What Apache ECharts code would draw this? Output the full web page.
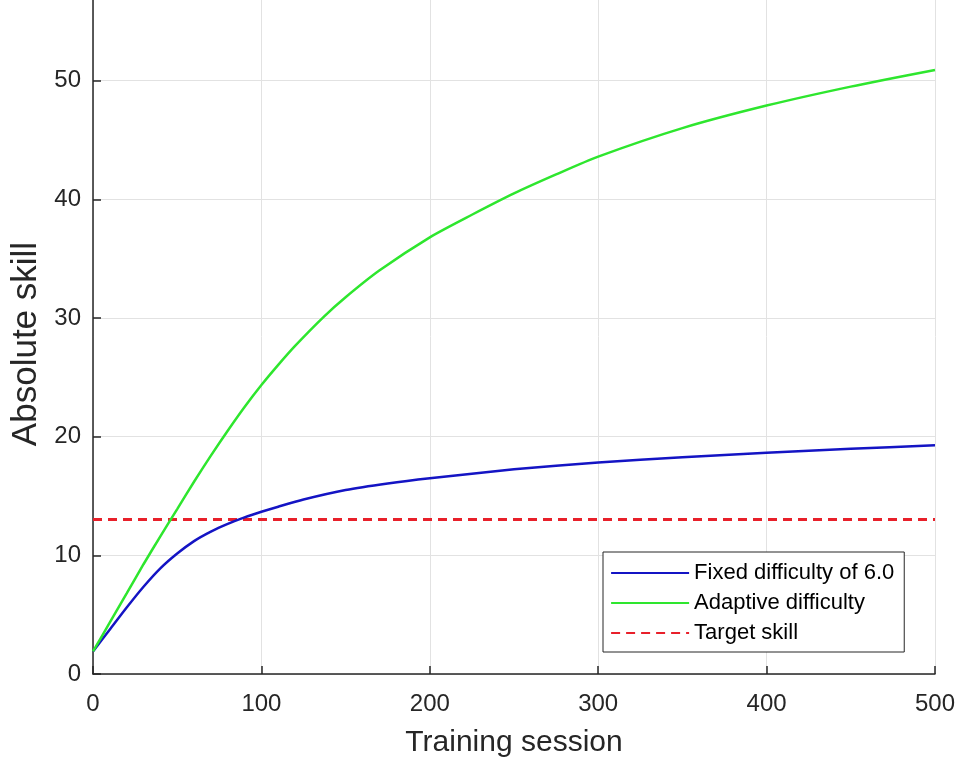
<!DOCTYPE html>
<html>
<head>
<meta charset="utf-8">
<script src="https://cdn.jsdelivr.net/npm/echarts@6/dist/echarts.min.js"></script>
<style>
  html, body { margin: 0; padding: 0; background: #fff; }
  #chart { width: 960px; height: 760px; }
</style>
</head>
<body>
<div id="chart"></div>
<script type="text/javascript">
  // values
  var fixedSessions = [0, 10, 20, 30, 40, 50, 60, 70, 80, 90, 100, 110, 125, 150, 175, 200, 250, 300, 350, 400, 450, 500];
  var fixedSkill    = [1.9, 3.75, 5.6, 7.35, 8.9, 10.15, 11.2, 12.0, 12.65, 13.2, 13.67, 14.1, 14.7, 15.5, 16.05, 16.49, 17.25, 17.83, 18.27, 18.64, 18.98, 19.27];

  var adaptiveSessions = [0, 10, 20, 30, 40, 50, 60, 70, 80, 90, 100, 110, 120, 137, 150, 170, 200, 225, 250, 275, 300, 350, 400, 450, 500];
  var adaptiveSkill    = [1.9, 4.35, 6.8, 9.25, 11.6, 13.9, 16.2, 18.4, 20.5, 22.5, 24.35, 26.05, 27.65, 30.1, 31.75, 34.0, 36.8, 38.7, 40.5, 42.1, 43.6, 46.0, 47.9, 49.5, 50.9];

  var targetSessions = [0, 500];
  var targetSkill = 13.03;

  var xTicks = [0, 100, 200, 300, 400, 500];

  function pairs(xs, ys){
    var out = [];
    for (var i = 0; i < xs.length; i++) {
      out.push([xs[i], ys[i]]);
    }
    return out;
  }

  var font = '"Liberation Sans", Arial, Helvetica, sans-serif';
  var myChart = echarts.init(document.getElementById('chart'), null, {renderer: 'canvas'});

  myChart.setOption({
    animation: false,
    backgroundColor: '#ffffff',
    grid: {
      left: 93,
      right: 25,
      top: -38,
      bottom: 86,
      containLabel: false,
      outerBoundsMode: 'none'
    },
    legend: {
      orient: 'vertical',
      left: 603,
      top: 552,
      padding: [10, 10, 8, 7],
      itemWidth: 78,
      itemHeight: 14,
      itemGap: 8,
      backgroundColor: '#ffffff',
      borderColor: '#262626',
      borderWidth: 1,
      borderRadius: 0,
      itemStyle: { opacity: 0 },
      lineStyle: { width: 2.2 },
      textStyle: {
        fontFamily: font,
        fontSize: 22,
        color: '#000000'
      },
      data: ['Fixed difficulty of 6.0', 'Adaptive difficulty', 'Target skill']
    },
    xAxis: {
      type: 'value',
      min: xTicks[0],
      max: xTicks[xTicks.length - 1],
      interval: 100,
      name: 'Training session',
      nameLocation: 'middle',
      nameGap: 54,
      nameTextStyle: { fontFamily: font, fontSize: 30, color: '#262626' },
      axisLine: { show: true, onZero: false, lineStyle: { color: '#262626', width: 1.5 } },
      axisTick: { show: true, inside: true, length: 8, lineStyle: { color: '#262626', width: 1.5 } },
      axisLabel: { fontFamily: font, fontSize: 24, color: '#262626', margin: 18 },
      splitLine: { show: true, lineStyle: { color: '#e2e2e2', width: 1 } }
    },
    yAxis: {
      type: 'value',
      min: 0,
      max: 60,
      interval: 10,
      name: 'Absolute skill',
      nameLocation: 'middle',
      nameGap: 40,
      nameRotate: 90,
      nameTextStyle: { fontFamily: font, fontSize: 35, color: '#262626', padding: [0, 52, 0, 0] },
      axisLine: { show: true, onZero: false, lineStyle: { color: '#262626', width: 1.5 } },
      axisTick: { show: true, inside: true, length: 8, lineStyle: { color: '#262626', width: 1.5 } },
      axisLabel: { fontFamily: font, fontSize: 24, color: '#262626', margin: 12 },
      splitLine: { show: true, lineStyle: { color: '#e2e2e2', width: 1 } }
    },
    series: [
      {
        name: 'Fixed difficulty of 6.0',
        type: 'line',
        symbol: 'none',
        smooth: 0.25,
        silent: true,
        lineStyle: { color: '#1414c4', width: 2.5 },
        itemStyle: { color: '#1414c4' },
        data: pairs(fixedSessions, fixedSkill),
        z: 3
      },
      {
        name: 'Adaptive difficulty',
        type: 'line',
        symbol: 'none',
        smooth: 0.25,
        silent: true,
        lineStyle: { color: '#2ee62e', width: 2.5 },
        itemStyle: { color: '#2ee62e' },
        data: pairs(adaptiveSessions, adaptiveSkill),
        z: 3
      },
      {
        name: 'Target skill',
        type: 'line',
        symbol: 'none',
        silent: true,
        lineStyle: { color: '#e8202a', width: 3, type: [9, 6] },
        itemStyle: { color: '#e8202a' },
        data: pairs(targetSessions, [targetSkill, targetSkill]),
        z: 2
      }
    ]
  });
</script>
</body>
</html>
